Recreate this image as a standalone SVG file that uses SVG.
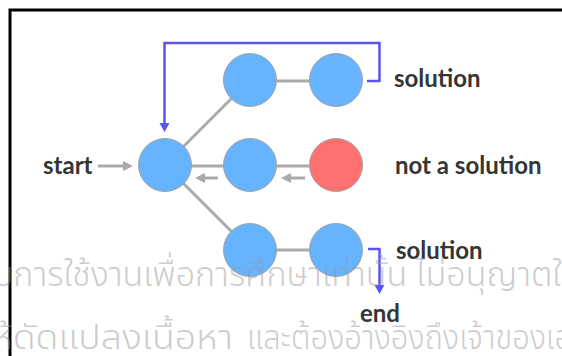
<svg xmlns="http://www.w3.org/2000/svg" width="562" height="356" viewBox="0 0 562 356">
  <style>
    .node circle { stroke: #a3a3a3; stroke-width: 1; }
    .ok { fill: #66b3ff; }
    .bad { fill: #ff7070; }
    .edge { stroke: #aaaaaa; stroke-width: 3; fill: none; }
    .step { stroke: #aaaaaa; stroke-width: 3; fill: none; marker-end: url(#grayHead); }
    .flow { stroke: #5a55ee; stroke-width: 2.5; fill: none; marker-end: url(#blueHead); }
    .lbl { font-family: Lato, "Liberation Sans", sans-serif; font-weight: bold; font-size: 24px; fill: #353535; }
    .wm { font-family: "Noto Sans Thai", "Noto Sans", "DejaVu Sans", sans-serif; font-weight: 300; font-size: 34px; fill: #999999; fill-opacity: 0.5; }
  </style>
  <defs>
    <marker id="grayHead" markerUnits="userSpaceOnUse" markerWidth="12" markerHeight="12" refX="0" refY="5" orient="auto">
      <path d="M0,0 L10,5 L0,10 Z" fill="#aaaaaa"/>
    </marker>
    <marker id="blueHead" markerUnits="userSpaceOnUse" markerWidth="12" markerHeight="12" refX="0" refY="5" orient="auto">
      <path d="M0,0 L9,5 L0,10 Z" fill="#5a55ee"/>
    </marker>
  </defs>

  <rect width="562" height="356" fill="#ffffff"/>
  <!-- frame -->
  <path d="M10,356 V10 H562" fill="none" stroke="#000" stroke-width="3"/>

  <g id="connectors">
    <line class="edge" x1="250" y1="81" x2="336" y2="81"/>
    <line class="edge" x1="165" y1="166" x2="336" y2="166"/>
    <line class="edge" x1="250" y1="250" x2="336" y2="250"/>
    <line class="edge" x1="165" y1="165" x2="250" y2="80"/>
    <line class="edge" x1="165" y1="165" x2="250" y2="250"/>
    <line class="step" x1="98" y1="166" x2="123" y2="166"/>
    <line class="step" x1="218" y1="178" x2="205" y2="178"/>
    <line class="step" x1="305" y1="178" x2="291" y2="178"/>
    <path class="flow" d="M367,81 H379.5 V43 H164.5 V123"/>
    <path class="flow" d="M368,249 H379.5 V285"/>
  </g>

  <g id="n-root" class="node"><circle class="ok" cx="165" cy="165" r="26.5"/></g>
  <g id="n-top-1" class="node"><circle class="ok" cx="250" cy="80" r="26.5"/></g>
  <g id="n-top-2" class="node"><circle class="ok" cx="336" cy="80" r="26.5"/></g>
  <g id="n-mid-1" class="node"><circle class="ok" cx="250" cy="165" r="26.5"/></g>
  <g id="n-mid-2" class="node"><circle class="bad" cx="336" cy="165" r="26.5"/></g>
  <g id="n-bot-1" class="node"><circle class="ok" cx="250" cy="250" r="26.5"/></g>
  <g id="n-bot-2" class="node"><circle class="ok" cx="336" cy="250" r="26.5"/></g>

  <g id="labels">
    <text class="lbl" x="43" y="174">start</text>
    <text class="lbl" x="394" y="87">solution</text>
    <text class="lbl" x="395" y="174">not a solution</text>
    <text class="lbl" x="396" y="259">solution</text>
    <text class="lbl" x="360" y="322">end</text>
  </g>

  <!-- usage notice, laid over the drawing -->
  <g id="watermark">
    <text class="wm" x="-7" y="286">ับการใช้งานเพื่อการศึกษาเท่านั้น ไม่อนุญาตใ</text>
    <text class="wm" y="349"><tspan x="-9" textLength="242" lengthAdjust="spacingAndGlyphs">ห้ดัดแปลงเนื้อหา</tspan><tspan x="247" textLength="325" lengthAdjust="spacingAndGlyphs">และต้องอ้างอิงถึงเจ้าของเอ</tspan></text>
  </g>
</svg>
